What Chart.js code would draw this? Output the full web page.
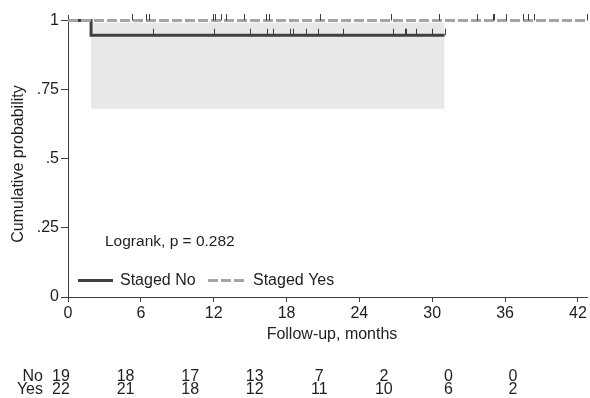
<!DOCTYPE html>
<html><head><meta charset="utf-8">
<script src="https://cdn.jsdelivr.net/npm/chart.js@4"></script>
<style>html,body{margin:0;padding:0;background:#fff}#wrap{width:590px;height:398px;position:relative}</style>
</head><body><div id="wrap"><canvas id="c"></canvas></div>
<script>
// ---- data ----
const xTicks = [0, 6, 12, 18, 24, 30, 36, 42];
const yTicks = [0, 0.25, 0.5, 0.75, 1];
const yTickLabels = ['0', '.25', '.5', '.75', '1'];
const noCurveX = [0, 1.9, 31.02];
const noCurveY = [1, 0.947, 0.947];
const yesCurveX = [0, 42.75];
const yesCurveY = [1, 1];
const noCiX = [1.9, 31.02];
const noCiLower = [0.681, 0.681];
const noCiUpper = [0.992, 0.992];
const noCensor = [6.97, 12.05, 14.96, 16.39, 16.85, 18.25, 18.5, 19.63, 20.59, 22.65, 26.74, 27.78, 27.87, 28.67, 29.98, 31.02];
const yesCensor = [5.27, 6.45, 6.64, 11.94, 12.13, 12.63, 13.04, 14.52, 16.31, 16.52, 20.73, 26.61, 30.58, 33.69, 34.98, 35.12, 36.1, 37.48, 37.86, 38.35, 42.75];
const riskTimes = [0, 6, 12, 18, 24, 30, 36, 42];
const riskNo = [19, 18, 17, 13, 7, 2, 0, 0];
const riskYes = [22, 21, 18, 12, 11, 10, 6, 2];
const groupLabels = ['No', 'Yes'];
const legendLabels = ['Staged No', 'Staged Yes'];
const annotationText = 'Logrank, p = 0.282';
const xTitle = 'Follow-up, months';
const yTitle = 'Cumulative probability';

// ---- helpers ----
const F = '"Liberation Sans", Arial, Helvetica, sans-serif';
const TXT = '#1e1e1e';
const AX = '#3c3c3c';
const NO_COL = '#404040';
const YES_COL = '#a5a5a5';
const BAND_COL = '#e8e8e8';
const pts = (xs, ys) => xs.map((v, i) => ({x: v, y: ys[i]}));
const stepAt = (xs, ys, t) => { let v = ys[0]; for (let i = 0; i < xs.length; i++) if (xs[i] <= t) v = ys[i]; return v; };

const extras = {
  id: 'extras',
  afterDatasetsDraw(chart) {
    const {ctx, scales, chartArea} = chart;
    const x = scales.x, y = scales.y, risk = scales.risk;
    ctx.save();
    // censoring marks
    ctx.strokeStyle = AX; ctx.lineWidth = 1;
    const mark = (t, s) => {
      const px = Math.round(x.getPixelForValue(t)) + 0.5, py = y.getPixelForValue(s);
      ctx.beginPath(); ctx.moveTo(px, py); ctx.lineTo(px, py - 6.5); ctx.stroke();
    };
    noCensor.forEach(t => mark(t, stepAt(noCurveX, noCurveY, t)));
    yesCensor.forEach(t => mark(t, stepAt(yesCurveX, yesCurveY, t)));
    // annotation
    ctx.fillStyle = TXT; ctx.textBaseline = 'middle'; ctx.textAlign = 'left';
    ctx.font = '15.5px ' + F;
    ctx.fillText(annotationText, 105, 242);
    // legend
    ctx.lineWidth = 3;
    ctx.strokeStyle = NO_COL; ctx.setLineDash([]);
    ctx.beginPath(); ctx.moveTo(78, 280.5); ctx.lineTo(113, 280.5); ctx.stroke();
    ctx.strokeStyle = YES_COL; ctx.setLineDash([10, 3]);
    ctx.beginPath(); ctx.moveTo(208, 280.5); ctx.lineTo(246, 280.5); ctx.stroke();
    ctx.setLineDash([]);
    ctx.font = '16px ' + F;
    ctx.fillText(legendLabels[0], 120, 281);
    ctx.fillText(legendLabels[1], 253, 281);
    // x-axis title
    ctx.textAlign = 'center';
    ctx.fillText(xTitle, (chartArea.left + chartArea.right) / 2 + 4.5, 335);
    // y-axis title
    ctx.save();
    ctx.translate(18.5, (chartArea.top + chartArea.bottom) / 2 + 8);
    ctx.rotate(-Math.PI / 2);
    ctx.fillText(yTitle, 0, 0);
    ctx.restore();
    // risk table
    ctx.textAlign = 'right';
    ctx.fillText(groupLabels[0], 43, 376.5);
    ctx.fillText(groupLabels[1], 43, 389.5);
    ctx.textAlign = 'center';
    riskTimes.forEach((t, i) => {
      const px = risk.getPixelForValue(t);
      ctx.fillText(String(riskNo[i]), px, 376.5);
      ctx.fillText(String(riskYes[i]), px, 389.5);
    });
    ctx.restore();
  }
};

new Chart(document.getElementById('c'), {
  type: 'scatter',
  data: {
    datasets: [
      {label: 'ciLow', data: pts(noCiX, noCiLower), showLine: true, borderWidth: 0, pointRadius: 0, fill: false, order: 4},
      {label: 'ciHigh', data: pts(noCiX, noCiUpper), showLine: true, borderWidth: 0, pointRadius: 0, fill: '-1', backgroundColor: BAND_COL, order: 3},
      {label: legendLabels[0], data: pts(noCurveX, noCurveY), showLine: true, stepped: 'before', borderColor: NO_COL, borderWidth: 3, pointRadius: 0, fill: false, order: 2, borderCapStyle: 'butt'},
      {label: legendLabels[1], data: pts(yesCurveX, yesCurveY), showLine: true, stepped: 'before', borderColor: YES_COL, borderWidth: 3, borderDash: [10, 3], pointRadius: 0, fill: false, order: 1}
    ]
  },
  options: {
    responsive: true, maintainAspectRatio: false, animation: false,
    layout: {padding: {left: 0, right: 3, top: 15, bottom: 0}},
    plugins: {legend: {display: false}, tooltip: {enabled: false}},
    scales: {
      x: {
        type: 'linear', position: 'bottom', min: 0, max: 42.75,
        afterBuildTicks: s => { s.ticks = xTicks.map(v => ({value: v})); },
        afterFit: s => { s.height = 101; },
        ticks: {font: {family: F, size: 16}, color: TXT, padding: 2, maxRotation: 0, autoSkip: false},
        grid: {drawOnChartArea: false, drawTicks: true, tickLength: 5, color: AX},
        border: {display: true, color: AX, width: 1},
        title: {display: false}
      },
      risk: {
        type: 'linear', position: 'bottom', display: false, min: 0.65, max: 48.88
      },
      y: {
        type: 'linear', position: 'left', min: 0, max: 1.02,
        afterBuildTicks: s => { s.ticks = yTicks.map(v => ({value: v})); },
        afterFit: s => { s.width = 68; },
        ticks: {font: {family: F, size: 16}, color: TXT, padding: 2, callback: (v) => { const i = yTicks.indexOf(v); return i >= 0 ? yTickLabels[i] : ''; }},
        grid: {drawOnChartArea: false, drawTicks: true, tickLength: 7, color: AX},
        border: {display: true, color: AX, width: 1},
        title: {display: false}
      }
    }
  },
  plugins: [extras]
});
</script></body></html>
